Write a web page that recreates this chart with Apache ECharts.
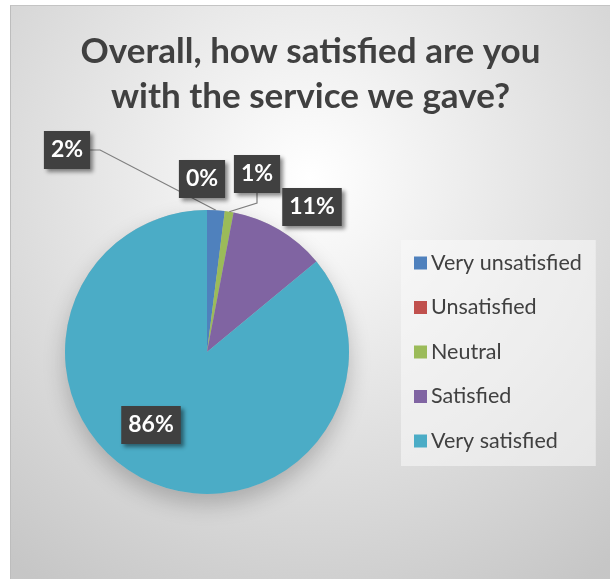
<!DOCTYPE html>
<html>
<head>
<meta charset="utf-8">
<script src="https://cdn.jsdelivr.net/npm/echarts@6/dist/echarts.min.js"></script>
<style>
  html, body { margin: 0; padding: 0; background: #ffffff; }
  #chart {
    position: absolute; left: 10px; top: 5px;
    width: 599px; height: 573px;
    border-left: 1px solid #bdbdbd; border-top: 1px solid #c4c4c4;
  }
</style>
</head>
<body>
<div id="chart"></div>
<script>
// Survey answers, share of respondents (%)
const categories = ['Very unsatisfied', 'Unsatisfied', 'Neutral', 'Satisfied', 'Very satisfied'];
const values = [2, 0, 1, 11, 86];
const colors = ['#4f81bd', '#c0504d', '#9bbb59', '#8064a2', '#4bacc6'];

// Callout box centres for each slice label, in chart pixels
const labelSpots = [[56, 144], [191, 173], [246, 168], [301, 201], [140, 419]];
const showLeader = [true, false, true, false, false];

const chart = echarts.init(document.getElementById('chart'), null, { renderer: 'canvas' });

const pieCenter = [196, 346];
const pieRadius = 142;

const option = {
  animation: false,
  backgroundColor: {
    type: 'radial', x: 0.5, y: 0.3, r: 0.85,
    colorStops: [
      { offset: 0, color: '#ffffff' },
      { offset: 1, color: '#c6c6c6' }
    ]
  },
  color: colors,
  title: {
    text: 'Overall, how satisfied are you\nwith the service we gave?',
    left: 'center',
    top: 18,
    textStyle: {
      fontFamily: 'Lato', fontWeight: 'bold', fontSize: 35,
      color: '#404040', lineHeight: 45
    }
  },
  legend: {
    orient: 'vertical',
    left: 390, top: 234,
    data: categories,
    icon: 'rect',
    itemWidth: 13, itemHeight: 13,
    itemGap: 22.5,
    padding: [12, 14, 14, 13],
    backgroundColor: 'rgba(250,250,250,0.55)',
    selectedMode: false,
    textStyle: {
      fontFamily: 'Lato', fontSize: 21.5, color: '#404040',
      lineHeight: 20, padding: [0, 0, 0, -1]
    }
  },
  series: [
    {
      // soft drop shadow under the pie
      type: 'pie', silent: true, center: pieCenter, radius: pieRadius,
      label: { show: false }, labelLine: { show: false },
      itemStyle: {
        color: '#bdbdbd', shadowBlur: 22, shadowOffsetY: 10,
        shadowColor: 'rgba(0,0,0,0.22)'
      },
      data: [{ value: 1, name: '' }]
    },
    {
      type: 'pie',
      center: pieCenter,
      radius: pieRadius,
      startAngle: 90,
      clockwise: true,
      avoidLabelOverlap: false,
      percentPrecision: 0,
      data: categories.map((name, i) => ({
        name: name,
        value: values[i],
        label: { position: i === 4 ? 'inside' : 'outside' },
        labelLine: { show: showLeader[i] }
      })),
      itemStyle: { borderWidth: 0 },
      label: {
        show: true,
        formatter: '{d}%',
        fontFamily: 'Lato', fontWeight: 'bold', fontSize: 23,
        color: '#ffffff',
        backgroundColor: '#404040',
        padding: [8, 7, 7, 7],
        shadowColor: 'rgba(0,0,0,0.45)', shadowBlur: 4,
        shadowOffsetX: 3, shadowOffsetY: 3
      },
      labelLine: {
        lineStyle: { color: '#7f7f7f', width: 1.2 },
        length: 10, length2: 10
      },
      labelLayout: function (params) {
        const p = labelSpots[params.dataIndex];
        return { x: p[0], y: p[1], align: 'center', verticalAlign: 'middle' };
      }
    }
  ]
};

chart.setOption(option);
</script>
</body>
</html>
